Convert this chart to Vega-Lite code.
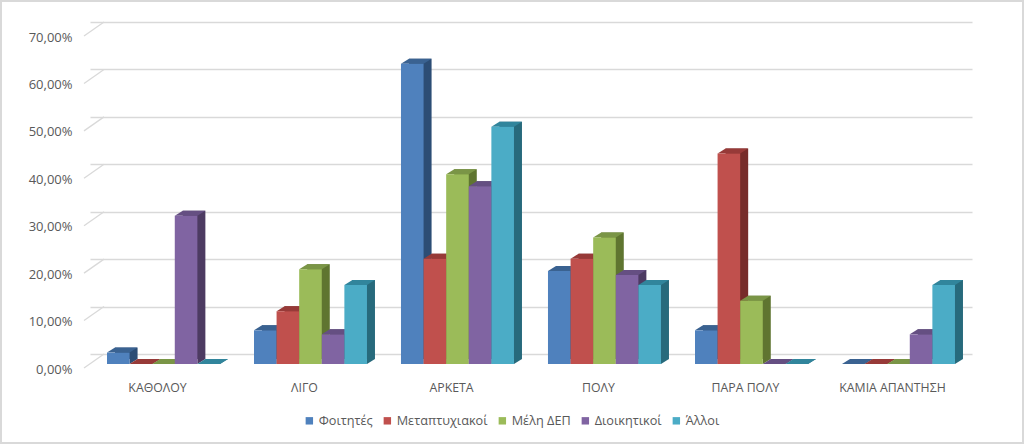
{
"$schema":"https://vega.github.io/schema/vega-lite/v6.json",
"width":882,"height":332,
"autosize":{"type":"none"},
"padding":{"left":104,"top":22,"right":38,"bottom":90},
"background":"white",
"config":{"view":{"stroke":null},"font":"Open Sans"},
"datasets":{
"bars":[
{"cat":"ΚΑΘΟΛΟΥ","group":"Φοιτητές","value":2.4},{"cat":"ΚΑΘΟΛΟΥ","group":"Μεταπτυχιακοί","value":0},{"cat":"ΚΑΘΟΛΟΥ","group":"Μέλη ΔΕΠ","value":0},{"cat":"ΚΑΘΟΛΟΥ","group":"Διοικητικοί","value":31.25},{"cat":"ΚΑΘΟΛΟΥ","group":"Άλλοι","value":0},
{"cat":"ΛΙΓΟ","group":"Φοιτητές","value":7.1},{"cat":"ΛΙΓΟ","group":"Μεταπτυχιακοί","value":11.1},{"cat":"ΛΙΓΟ","group":"Μέλη ΔΕΠ","value":20},{"cat":"ΛΙΓΟ","group":"Διοικητικοί","value":6.25},{"cat":"ΛΙΓΟ","group":"Άλλοι","value":16.67},
{"cat":"ΑΡΚΕΤΑ","group":"Φοιτητές","value":63.3},{"cat":"ΑΡΚΕΤΑ","group":"Μεταπτυχιακοί","value":22.2},{"cat":"ΑΡΚΕΤΑ","group":"Μέλη ΔΕΠ","value":40},{"cat":"ΑΡΚΕΤΑ","group":"Διοικητικοί","value":37.5},{"cat":"ΑΡΚΕΤΑ","group":"Άλλοι","value":50},
{"cat":"ΠΟΛΥ","group":"Φοιτητές","value":19.6},{"cat":"ΠΟΛΥ","group":"Μεταπτυχιακοί","value":22.2},{"cat":"ΠΟΛΥ","group":"Μέλη ΔΕΠ","value":26.67},{"cat":"ΠΟΛΥ","group":"Διοικητικοί","value":18.75},{"cat":"ΠΟΛΥ","group":"Άλλοι","value":16.67},
{"cat":"ΠΑΡΑ ΠΟΛΥ","group":"Φοιτητές","value":7.1},{"cat":"ΠΑΡΑ ΠΟΛΥ","group":"Μεταπτυχιακοί","value":44.4},{"cat":"ΠΑΡΑ ΠΟΛΥ","group":"Μέλη ΔΕΠ","value":13.33},{"cat":"ΠΑΡΑ ΠΟΛΥ","group":"Διοικητικοί","value":0},{"cat":"ΠΑΡΑ ΠΟΛΥ","group":"Άλλοι","value":0},
{"cat":"ΚΑΜΙΑ ΑΠΑΝΤΗΣΗ","group":"Φοιτητές","value":0},{"cat":"ΚΑΜΙΑ ΑΠΑΝΤΗΣΗ","group":"Μεταπτυχιακοί","value":0},{"cat":"ΚΑΜΙΑ ΑΠΑΝΤΗΣΗ","group":"Μέλη ΔΕΠ","value":0},{"cat":"ΚΑΜΙΑ ΑΠΑΝΤΗΣΗ","group":"Διοικητικοί","value":6.25},{"cat":"ΚΑΜΙΑ ΑΠΑΝΤΗΣΗ","group":"Άλλοι","value":16.67}
],
"ticks":[{"v":0},{"v":10},{"v":20},{"v":30},{"v":40},{"v":50},{"v":60},{"v":70}]
},
"resolve":{"scale":{"color":"independent","xOffset":"independent"}},
"layer":[
{"data":{"name":"ticks"},
 "mark":{"type":"rule","stroke":"#d9d9d9","strokeWidth":1.3,"yOffset":14,"y2Offset":0,"clip":false},
 "encoding":{
  "x":{"value":-20},"x2":{"value":0},
  "y":{"field":"v","type":"quantitative","scale":{"domain":[0,70],"nice":false},
   "axis":{"values":[0,10,20,30,40,50,60,70],"title":null,"domain":false,"ticks":false,"labelPadding":32,"labelOffset":15,"labelFontSize":13,"labelColor":"#595959","labelExpr":"replace(format(datum.value,'.2f'),'.',',')+'%'","grid":true,"gridColor":"#d9d9d9","gridWidth":1.3}},
  "y2":{"field":"v"}
 }},
{"data":{"name":"bars"},
 "mark":{"type":"bar","yOffset":5,"y2Offset":5},
 "encoding":{
  "x":{"field":"cat","type":"nominal","sort":null,"title":null,
   "scale":{"range":[-14,868],"paddingInner":0.231,"paddingOuter":0.1155},
   "axis":{"domain":false,"ticks":false,"labelAngle":0,"labelPadding":27,"labelOffset":-6,"labelFontSize":12.3,"labelColor":"#595959","labelLimit":200}},
  "xOffset":{"field":"group","type":"nominal","sort":null,"scale":{"type":"band","domain":["Φοιτητές","Μεταπτυχιακοί","Μέλη ΔΕΠ","Διοικητικοί","Άλλοι"],"range":[8,121],"paddingInner":0,"paddingOuter":0}},
  "y":{"field":"value","type":"quantitative","stack":null},
  "y2":{"datum":0},
  "color":{"field":"group","type":"nominal","legend":null,"scale":{"domain":["Φοιτητές","Μεταπτυχιακοί","Μέλη ΔΕΠ","Διοικητικοί","Άλλοι"],"range":["#2c4d75","#772c2a","#5f7530","#4d3b62","#276a7c"]}}
 }},
{"data":{"name":"bars"},
 "mark":{"type":"point","filled":true,"opacity":1,"size":4,"shape":"M11.3,10L19.3,5L11.3,5Z"},
 "encoding":{
  "x":{"field":"cat","type":"nominal","sort":null},
  "xOffset":{"field":"group","type":"nominal","sort":null,"scale":{"type":"band","domain":["Φοιτητές","Μεταπτυχιακοί","Μέλη ΔΕΠ","Διοικητικοί","Άλλοι"],"range":[0,113],"paddingInner":0,"paddingOuter":0}},
  "y":{"datum":0,"type":"quantitative"},
  "color":{"field":"group","type":"nominal","legend":null,"scale":{"domain":["Φοιτητές","Μεταπτυχιακοί","Μέλη ΔΕΠ","Διοικητικοί","Άλλοι"],"range":["#2c4d75","#772c2a","#5f7530","#4d3b62","#276a7c"]}}
 }},
{"data":{"name":"bars"},
 "mark":{"type":"point","filled":true,"opacity":1,"size":4,"shape":"M-11.3,10L-3.3,5L19.3,5L11.3,10Z"},
 "encoding":{
  "x":{"field":"cat","type":"nominal","sort":null},
  "xOffset":{"field":"group","type":"nominal","sort":null,"scale":{"type":"band","domain":["Φοιτητές","Μεταπτυχιακοί","Μέλη ΔΕΠ","Διοικητικοί","Άλλοι"],"range":[0,113],"paddingInner":0,"paddingOuter":0}},
  "y":{"field":"value","type":"quantitative"},
  "color":{"field":"group","type":"nominal","legend":null,"scale":{"domain":["Φοιτητές","Μεταπτυχιακοί","Μέλη ΔΕΠ","Διοικητικοί","Άλλοι"],"range":["#3a6291","#973a38","#7a9546","#654f82","#31859c"]}}
 }},
{"data":{"name":"bars"},
 "mark":{"type":"bar","yOffset":10,"y2Offset":10},
 "encoding":{
  "x":{"field":"cat","type":"nominal","sort":null},
  "xOffset":{"field":"group","type":"nominal","sort":null,"scale":{"type":"band","domain":["Φοιτητές","Μεταπτυχιακοί","Μέλη ΔΕΠ","Διοικητικοί","Άλλοι"],"range":[0,113],"paddingInner":0,"paddingOuter":0}},
  "y":{"field":"value","type":"quantitative","stack":null},
  "y2":{"datum":0},
  "color":{"field":"group","type":"nominal","title":null,
   "scale":{"domain":["Φοιτητές","Μεταπτυχιακοί","Μέλη ΔΕΠ","Διοικητικοί","Άλλοι"],"range":["#4f81bd","#c0504d","#9bbb59","#8064a2","#4bacc6"]},
   "legend":{"orient":"none","legendX":199,"legendY":392,"direction":"horizontal","columns":5,"symbolType":"square","symbolSize":55,"labelFontSize":12.7,"labelColor":"#595959","columnPadding":8,"labelOffset":3}}
 }},
{"data":{"values":[{}]},
 "mark":{"type":"rect","fill":"transparent","stroke":"#d9d9d9","strokeWidth":2,"clip":false},
 "encoding":{"x":{"value":-103},"x2":{"value":919},"y":{"value":-21},"y2":{"value":421}}}
]
}
